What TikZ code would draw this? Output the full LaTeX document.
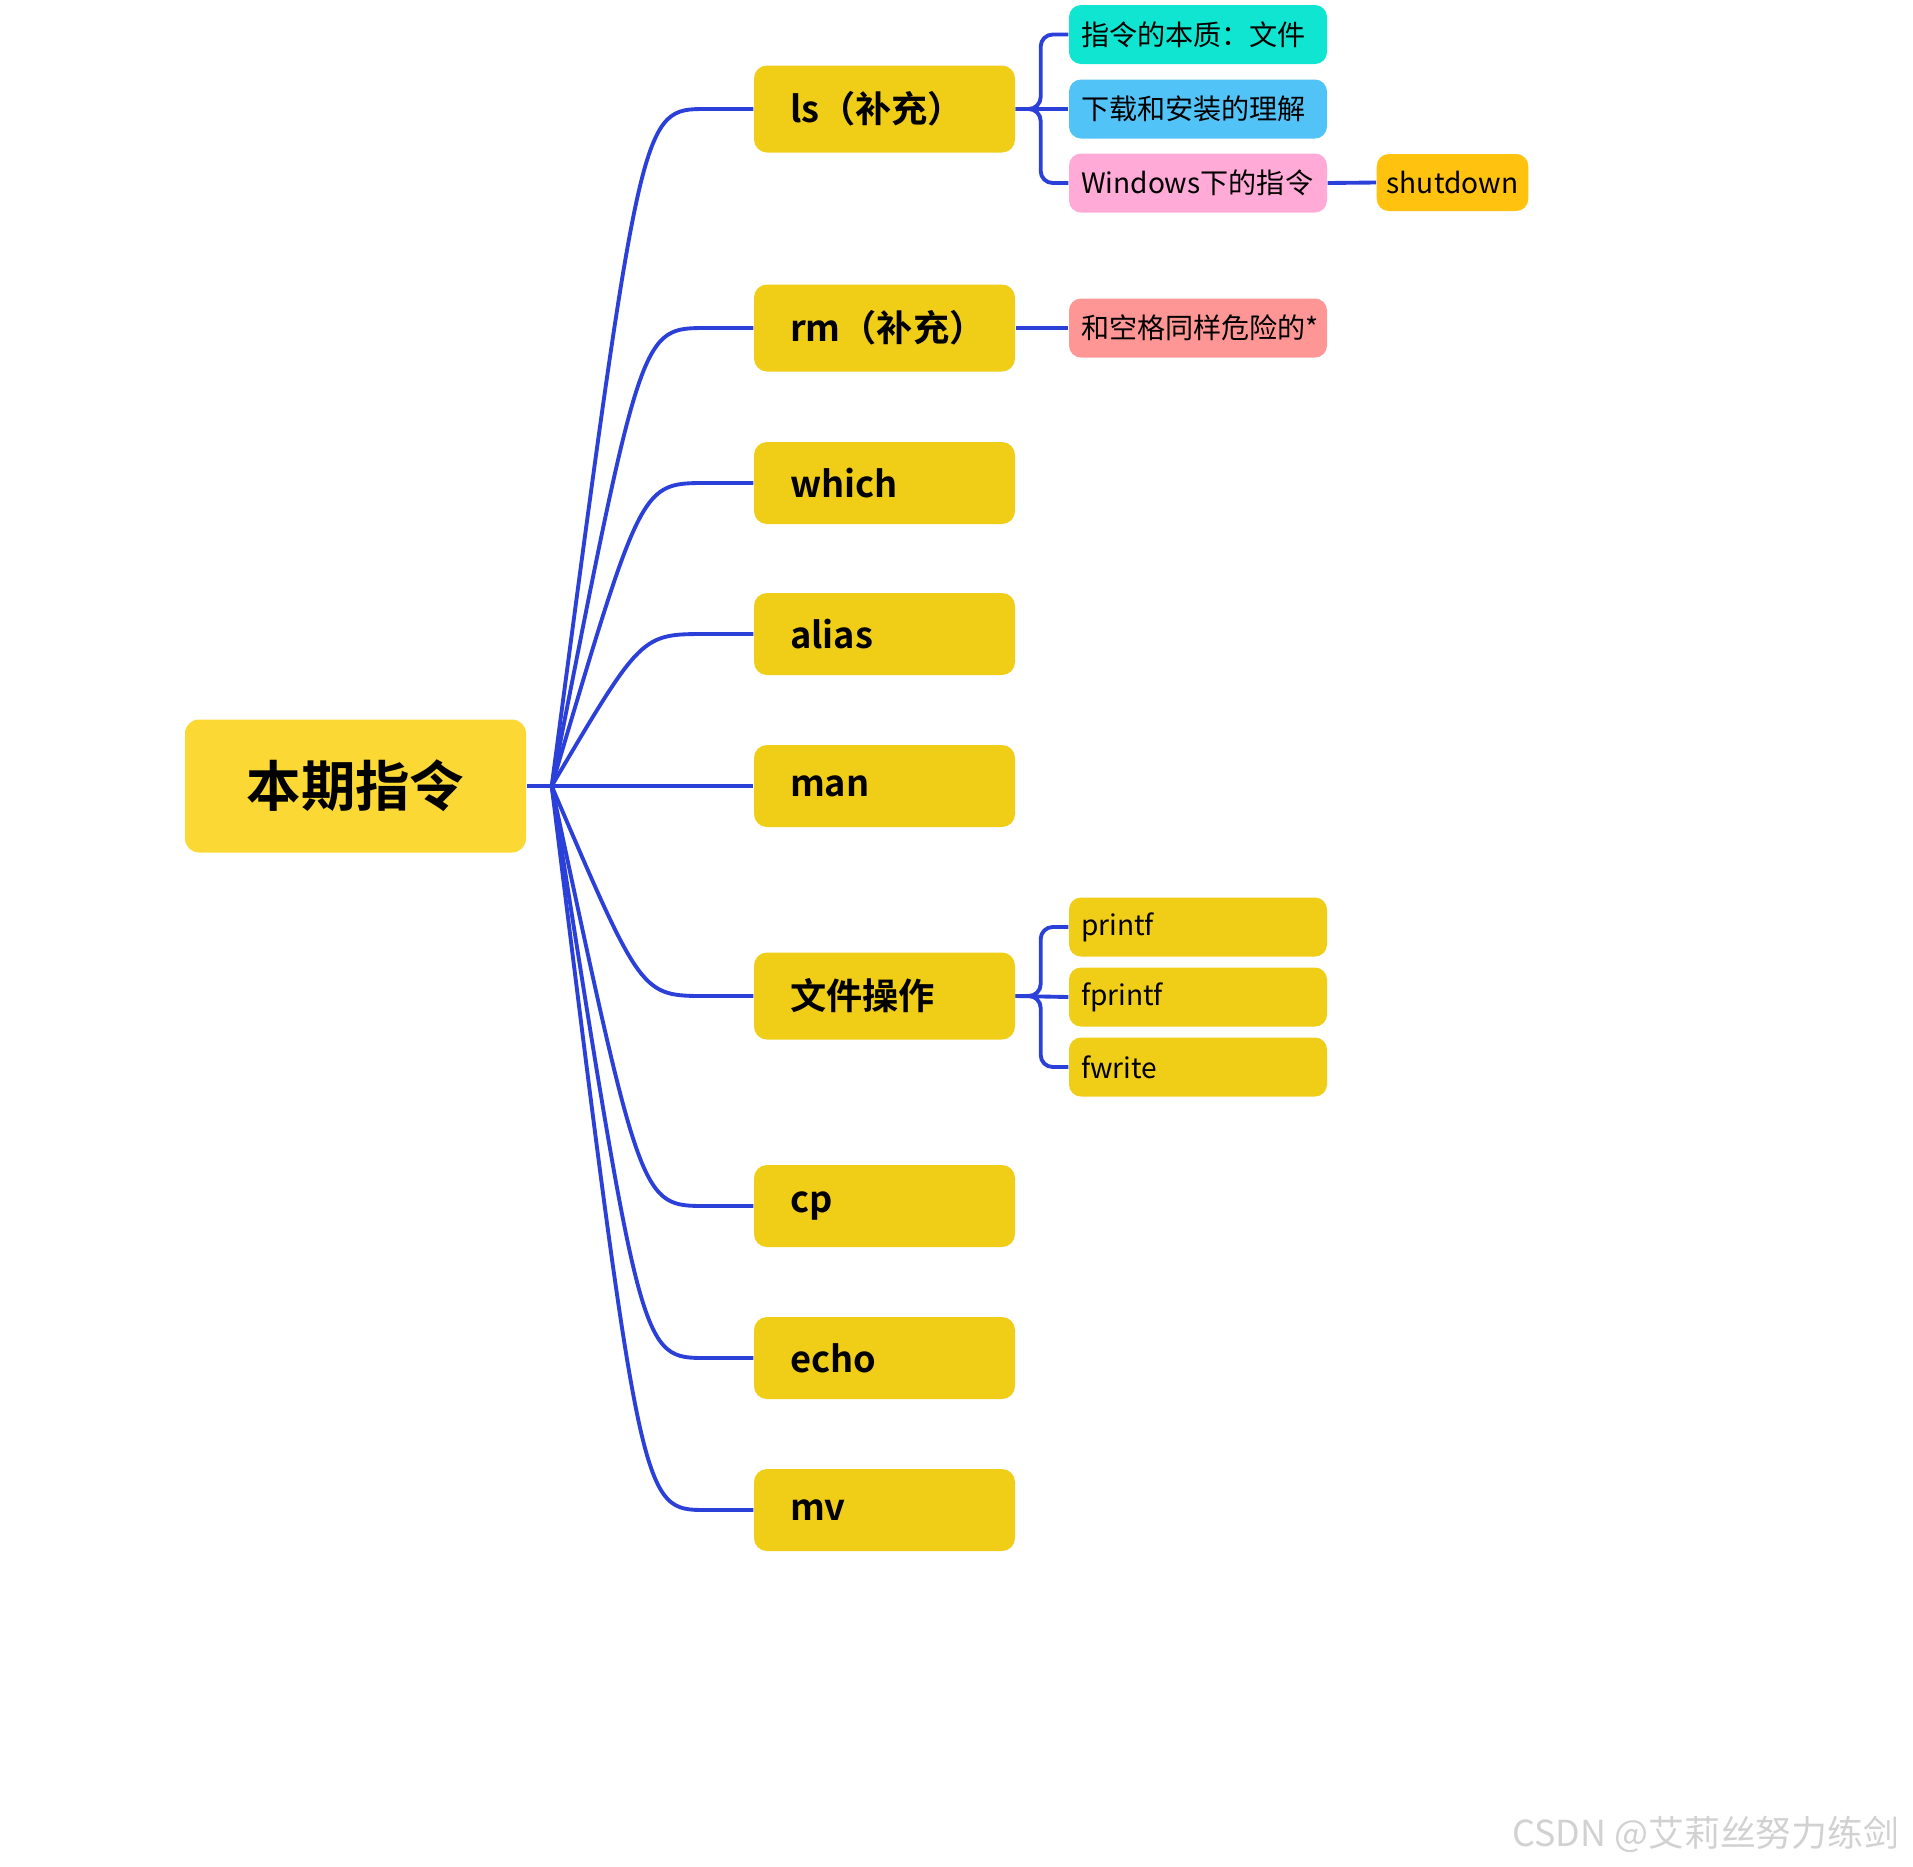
\documentclass[tikz,border=0pt]{standalone}
\usepackage{fontspec}
\setmainfont{Noto Sans CJK SC}[BoldFont={Noto Sans CJK SC Bold}]
\usepackage{xcolor}
\usetikzlibrary{calc}
\definecolor{rootyel}{HTML}{FCD835}
\definecolor{topicyel}{HTML}{F0CD17}
\definecolor{linkblue}{HTML}{2B3FD9}
\definecolor{tealc}{HTML}{0FE5D0}
\definecolor{skyc}{HTML}{52C3F7}
\definecolor{pinkc}{HTML}{FFAAD7}
\definecolor{salmonc}{HTML}{FF9696}
\definecolor{orangec}{HTML}{FFC20E}
\tikzset{
  rootbox/.style={fill=rootyel,rounded corners=0.14cm,minimum width=3.41cm,minimum height=1.33cm,font=\fontsize{15.5}{18}\selectfont\bfseries},
  topic/.style={fill=topicyel,rounded corners=0.13cm,text width=1.89cm,inner xsep=0.36cm,align=left,minimum height=0.82cm,font=\fontsize{10.3}{12}\selectfont\bfseries},
  sub/.style={rounded corners=0.12cm,text width=2.34cm,inner xsep=0.12cm,align=left,minimum height=0.59cm,font=\fontsize{8}{10}\selectfont},
  link/.style={draw=linkblue,line width=1.1pt},
}
\begin{document}
\begin{tikzpicture}
\useasboundingbox (0,0) rectangle (19.13,-18.67);
% root and hub
\node[rootbox] (root) at (3.555,-7.86) {本期指令};
\coordinate (hub) at ($(root.east)+(0.25,0)$);
% main topics
\node[topic,minimum height=0.87cm] (ls) at (8.845,-1.09) {ls（补充）};
\node[topic,minimum height=0.87cm] (rm) at (8.845,-3.28) {rm（补充）};
\node[topic] (which) at (8.845,-4.83) {which};
\node[topic] (alias) at (8.845,-6.34) {alias};
\node[topic] (man) at (8.845,-7.86) {man};
\node[topic,minimum height=0.87cm] (file) at (8.845,-9.96) {文件操作};
\node[topic] (cp) at (8.845,-12.06) {cp};
\node[topic] (echo) at (8.845,-13.58) {echo};
\node[topic] (mv) at (8.845,-15.10) {mv};
% subtopics
\node[sub,fill=tealc] (essence) at (11.98,-0.345) {指令的本质：文件};
\node[sub,fill=skyc] (install) at (11.98,-1.09) {下载和安装的理解};
\node[sub,fill=pinkc] (win) at (11.98,-1.83) {Windows下的指令};
\node[rounded corners=0.12cm,fill=orangec,minimum width=1.45cm,inner xsep=0.1cm,minimum height=0.57cm,font=\fontsize{8}{10}\selectfont] (shut) at (14.525,-1.825) {shutdown};
\node[sub,fill=salmonc] (space) at (11.98,-3.28) {和空格同样危险的*};
\node[sub,fill=topicyel] (printf) at (11.98,-9.27) {printf};
\node[sub,fill=topicyel] (fprintf) at (11.98,-9.97) {fprintf};
\node[sub,fill=topicyel] (fwrite) at (11.98,-10.67) {fwrite};
% connectors
\draw[link] (root.east) -- (hub) -- (man.west);
\foreach \n in {ls,rm,which,alias,file,cp,echo,mv}
  \draw[link] (hub) .. controls ($(\n.west)+(-1.12,0)$) .. ($(\n.west)+(-0.47,0)$) -- (\n.west);
\draw[link] (ls.east) -- (install.west);
\draw[link,rounded corners=0.12cm] (ls.east) -- ++(0.25,0) |- (essence.west);
\draw[link,rounded corners=0.12cm] (ls.east) -- ++(0.25,0) |- (win.west);
\draw[link] (win.east) -- (shut.west);
\draw[link] (rm.east) -- (space.west);
\draw[link] (file.east) -- (fprintf.west);
\draw[link,rounded corners=0.12cm] (file.east) -- ++(0.25,0) |- (printf.west);
\draw[link,rounded corners=0.12cm] (file.east) -- ++(0.25,0) |- (fwrite.west);
% watermark
\node[text=black!18,font=\fontsize{10.2}{12}\selectfont] (mark) at (17.06,-18.34) {CSDN @艾莉丝努力练剑};
\end{tikzpicture}
\end{document}
